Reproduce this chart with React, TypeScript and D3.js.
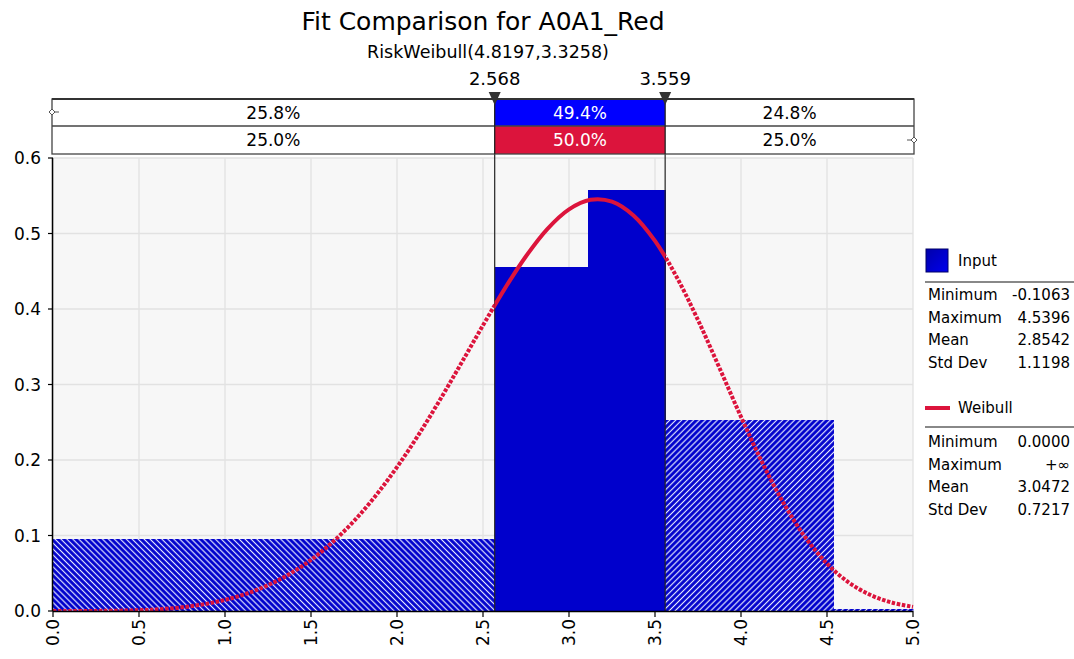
import React from "react";
import * as d3 from "d3";

const W = 1074;
const H = 659;

const titleText = "Fit Comparison for A0A1_Red";
const subtitleText = "RiskWeibull(4.8197,3.3258)";

const xTicks = [0, 0.5, 1, 1.5, 2, 2.5, 3, 3.5, 4, 4.5, 5];
const yTicks = [0, 0.1, 0.2, 0.3, 0.4, 0.5, 0.6];

// histogram bins (as displayed)
const binStart = [-0.1063, 2.568, 3.108, 3.559, 4.5396];
const binEnd = [2.568, 3.108, 3.559, 4.5396, 5.3];
const binDensity = [0.095, 0.455, 0.557, 0.253, 0.002];

// delimiters
const delimiters = [2.568, 3.559];
const inputPercents = ["25.8%", "49.4%", "24.8%"];
const fitPercents = ["25.0%", "50.0%", "25.0%"];

// fitted Weibull curve
const weibullX = [0, 0.25, 0.5, 0.625, 0.75, 0.875, 1.0, 1.125, 1.25, 1.375, 1.5, 1.625, 1.75, 1.875, 2.0, 2.125, 2.25, 2.375, 2.5, 2.625, 2.75, 2.875, 3.0, 3.125, 3.25, 3.375, 3.5, 3.625, 3.75, 3.875, 4.0, 4.125, 4.25, 4.375, 4.5, 4.625, 4.75, 4.875, 5.0];
const weibullY = [0, 0.0001, 0.001, 0.0024, 0.0049, 0.0088, 0.0147, 0.0229, 0.0342, 0.049, 0.0677, 0.0911, 0.1192, 0.1524, 0.1906, 0.2333, 0.2798, 0.3287, 0.3784, 0.4264, 0.4699, 0.5062, 0.532, 0.5447, 0.5423, 0.524, 0.4902, 0.4428, 0.3853, 0.3218, 0.2572, 0.1959, 0.1419, 0.0972, 0.0628, 0.038, 0.0215, 0.0113, 0.0055];

const inputStatsLabels = ["Minimum", "Maximum", "Mean", "Std Dev"];
const inputStatsValues = ["-0.1063", "4.5396", "2.8542", "1.1198"];
const fitStatsLabels = ["Minimum", "Maximum", "Mean", "Std Dev"];
const fitStatsValues = ["0.0000", "+∞", "3.0472", "0.7217"];

const FONT = "'DejaVu Sans', Verdana, sans-serif";

export default function App() {
  const left = 53, right = 913, top = 158, bottom = 611;
  const x = d3.scaleLinear().domain([0, 5]).range([left, right]);
  const y = d3.scaleLinear().domain([0, 0.6]).range([bottom, top]);

  const line = d3
    .line<number>()
    .x((_, i) => x(weibullX[i]))
    .y((d) => y(d))
    .curve(d3.curveCatmullRom.alpha(0.5));
  const curvePath = line(weibullY) || "";

  const d0 = x(delimiters[0]);
  const d1 = x(delimiters[1]);
  const segBounds = [left - 1, d0, d1, right + 1];

  const rowTop1 = 99, rowTop2 = 126, rowBot = 154;
  const blue = "#0000CC";
  const red = "#DC143C";

  return (
    <svg width={W} height={H} style={{ position: "absolute", left: 0, top: 0, background: "#fff" }} fontFamily={FONT}>
      <defs>
        <pattern id="hatchBack" width="4.2" height="4.2" patternUnits="userSpaceOnUse" patternTransform="rotate(-45)">
          <rect width="4.2" height="4.2" fill={blue} />
          <line x1="2.1" y1="0" x2="2.1" y2="4.2" stroke="#e4e8ff" strokeWidth="1.2" />
        </pattern>
        <pattern id="hatchFwd" width="4.2" height="4.2" patternUnits="userSpaceOnUse" patternTransform="rotate(45)">
          <rect width="4.2" height="4.2" fill={blue} />
          <line x1="2.1" y1="0" x2="2.1" y2="4.2" stroke="#e4e8ff" strokeWidth="1.2" />
        </pattern>
        <clipPath id="plotClip">
          <rect x={left} y={top} width={right - left + 1} height={bottom - top} />
        </clipPath>
        <clipPath id="midClip">
          <rect x={d0} y={top - 5} width={d1 - d0} height={bottom - top + 10} />
        </clipPath>
        <clipPath id="outClip">
          <rect x={left - 2} y={top - 5} width={d0 - left + 2} height={bottom - top + 10} />
          <rect x={d1} y={top - 5} width={right - d1 + 4} height={bottom - top + 10} />
        </clipPath>
        <linearGradient id="swatchGrad" x1="0" y1="0" x2="1" y2="1">
          <stop offset="0" stopColor="#0000AA" />
          <stop offset="1" stopColor="#0000EE" />
        </linearGradient>
      </defs>

      {/* Titles */}
      <text x={483} y={30} textAnchor="middle" fontSize={25} fill="#000">{titleText}</text>
      <text x={488} y={58} textAnchor="middle" fontSize={17.5} fill="#000">{subtitleText}</text>

      {/* plot background */}
      <rect x={left} y={top} width={right - left} height={bottom - top} fill="#F7F7F7" />
      {/* grid */}
      {xTicks.map((t) => (
        <line key={"gx" + t} x1={x(t)} x2={x(t)} y1={top} y2={bottom} stroke="#E2E2E2" strokeWidth={1.3} />
      ))}
      {yTicks.map((t) => (
        <line key={"gy" + t} x1={left} x2={right} y1={y(t)} y2={y(t)} stroke="#E2E2E2" strokeWidth={1.3} />
      ))}

      {/* bars */}
      <g clipPath="url(#plotClip)" shapeRendering="crispEdges">
        {binDensity.map((v, i) => {
          const x0 = x(binStart[i]);
          const x1 = x(binEnd[i]);
          const mid = (binStart[i] + binEnd[i]) / 2;
          const fill = mid < delimiters[0] ? "url(#hatchBack)" : mid > delimiters[1] ? "url(#hatchFwd)" : blue;
          return <rect key={"b" + i} x={x0} y={y(v)} width={x1 - x0 + (fill === blue ? 0.6 : 0)} height={y(0) - y(v)} fill={fill} />;
        })}
      </g>

      {/* delimiter vertical lines */}
      {delimiters.map((dv, i) => (
        <line key={"dl" + i} x1={x(dv)} x2={x(dv)} y1={rowTop1} y2={bottom} stroke="#222" strokeWidth={1.2} />
      ))}

      {/* Weibull curve */}
      <g clipPath="url(#plotClip)">
        <path d={curvePath} fill="none" stroke={red} strokeWidth={4} strokeDasharray="3.5 1.6" clipPath="url(#outClip)" />
        <path d={curvePath} fill="none" stroke={red} strokeWidth={4} clipPath="url(#midClip)" />
      </g>

      {/* axes */}
      <line x1={left - 0.5} x2={left - 0.5} y1={top} y2={bottom} stroke="#000" strokeWidth={1.5} />
      <line x1={left} x2={right} y1={bottom + 0.5} y2={bottom + 0.5} stroke="#000" strokeWidth={1.5} />
      {yTicks.map((t) => (
        <g key={"yt" + t}>
          <line x1={left - 5} x2={left} y1={y(t)} y2={y(t)} stroke="#000" strokeWidth={1.2} />
          <text x={41} y={y(t) + 6} textAnchor="end" fontSize={17} fill="#000">{t.toFixed(1)}</text>
        </g>
      ))}
      {xTicks.map((t) => (
        <g key={"xt" + t}>
          <line x1={x(t)} x2={x(t)} y1={bottom} y2={bottom + 6} stroke="#000" strokeWidth={1.2} />
          <text
            transform={`translate(${x(t) + 6},${619}) rotate(-90)`}
            textAnchor="end"
            fontSize={17}
            fill="#000"
          >
            {t.toFixed(1)}
          </text>
        </g>
      ))}

      {/* delimiter bars */}
      {[0, 1, 2].map((i) => {
        const xa = segBounds[i];
        const xb = segBounds[i + 1];
        const cx = (xa + xb) / 2;
        const isMid = i === 1;
        return (
          <g key={"seg" + i}>
            <rect x={xa} y={rowTop1} width={xb - xa} height={rowTop2 - rowTop1} fill={isMid ? "#0000FF" : "#fff"} />
            <rect x={xa} y={rowTop2} width={xb - xa} height={rowBot - rowTop2} fill={isMid ? red : "#fff"} />
            <text x={cx} y={(rowTop1 + rowTop2) / 2 + 6} textAnchor="middle" fontSize={17} fill={isMid ? "#fff" : "#000"}>
              {inputPercents[i]}
            </text>
            <text x={cx} y={(rowTop2 + rowBot) / 2 + 6} textAnchor="middle" fontSize={17} fill={isMid ? "#fff" : "#000"}>
              {fitPercents[i]}
            </text>
          </g>
        );
      })}
      <rect x={left - 1} y={rowTop1} width={right + 1 - left + 1} height={rowBot - rowTop1} fill="none" stroke="#444" strokeWidth={1.3} />
      <line x1={left - 1} x2={right + 1} y1={rowTop1} y2={rowTop1} stroke="#333" strokeWidth={2} />
      <line x1={left - 1} x2={right + 1} y1={rowTop2} y2={rowTop2} stroke="#444" strokeWidth={1.3} />
      {delimiters.map((dv, i) => (
        <line key={"dv" + i} x1={x(dv)} x2={x(dv)} y1={rowTop1} y2={rowBot} stroke="#222" strokeWidth={1.3} />
      ))}
      {/* end markers */}
      <g stroke="#555" strokeWidth={1} fill="#fff">
        <line x1={left - 1} x2={left + 6} y1={112} y2={112} />
        <path d={`M${left - 4},112 L${left - 1},109 L${left + 2},112 L${left - 1},115 Z`} />
        <line x1={right - 6} x2={right + 1} y1={140} y2={140} />
        <path d={`M${right - 2},140 L${right + 1},137 L${right + 4},140 L${right + 1},143 Z`} />
      </g>

      {/* delimiter markers + labels */}
      {delimiters.map((dv, i) => (
        <g key={"dm" + i}>
          <path d={`M${x(dv) - 6},${92} L${x(dv) + 6},${92} L${x(dv)},${105} Z`} fill="#333" />
          <text x={x(dv)} y={85} textAnchor="middle" fontSize={18} fill="#000">{dv.toFixed(3)}</text>
        </g>
      ))}

      {/* legend */}
      <rect x={926} y={249} width={22} height={23} fill="url(#swatchGrad)" stroke="#000066" strokeWidth={1} />
      <text x={958} y={266} fontSize={15} fill="#000">Input</text>
      <line x1={925} x2={1074} y1={282} y2={282} stroke="#888" strokeWidth={2} />
      {inputStatsLabels.map((l, i) => (
        <g key={"is" + i}>
          <text x={928} y={300 + i * 22.5} fontSize={15} fill="#000">{l}</text>
          <text x={1070} y={300 + i * 22.5} fontSize={15} textAnchor="end" fill="#000">{inputStatsValues[i]}</text>
        </g>
      ))}
      <line x1={925} x2={950} y1={408} y2={408} stroke={red} strokeWidth={4} />
      <text x={958} y={413} fontSize={15} fill="#000">Weibull</text>
      <line x1={925} x2={1074} y1={427} y2={427} stroke="#888" strokeWidth={2} />
      {fitStatsLabels.map((l, i) => (
        <g key={"fs" + i}>
          <text x={928} y={447 + i * 22.5} fontSize={15} fill="#000">{l}</text>
          <text x={1070} y={447 + i * 22.5} fontSize={15} textAnchor="end" fill="#000">{fitStatsValues[i]}</text>
        </g>
      ))}
    </svg>
  );
}
